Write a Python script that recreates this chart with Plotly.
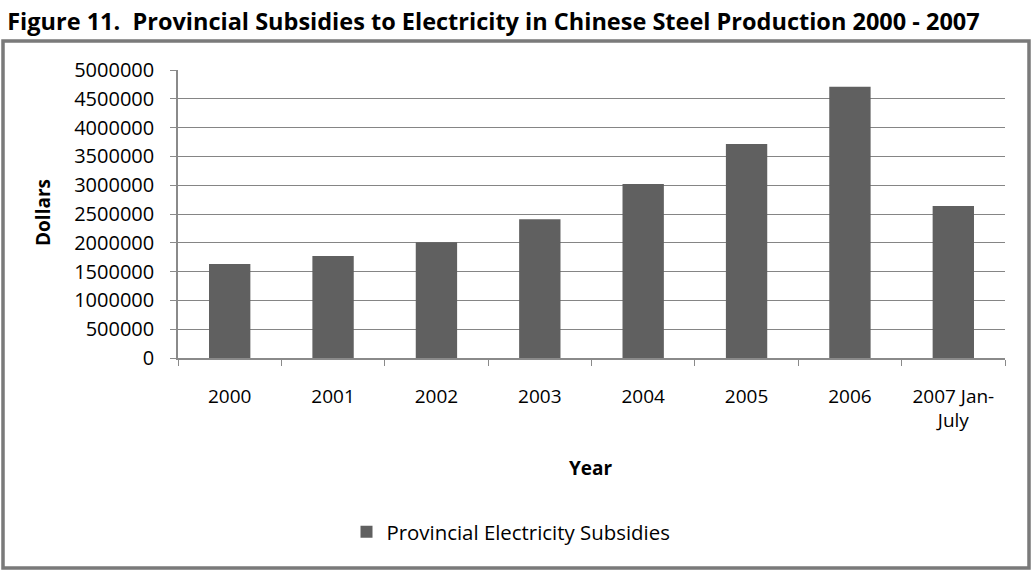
import plotly.graph_objects as go

categories = ["2000", "2001", "2002", "2003", "2004", "2005", "2006", "2007 Jan-July"]
tick_labels = ["2000", "2001", "2002", "2003", "2004", "2005", "2006", "2007 Jan-<br>July"]
subsidies = [1630000, 1770000, 2010000, 2410000, 3020000, 3715000, 4710000, 2640000]
series_name = "Provincial Electricity Subsidies"
title_text = "Figure 11.  Provincial Subsidies to Electricity in Chinese Steel Production 2000 - 2007"

FONT = "Open Sans"
W, H = 1033, 572
L, R, T, B = 178, 28, 70, 214
pw, ph = W - L - R, H - T - B

def px_x(x):
    return (x - L) / pw

def px_y(y):
    return (H - B - y) / ph

fig = go.Figure()
fig.add_trace(go.Bar(
    x=categories, y=subsidies, name=series_name,
    marker=dict(color="#606060", line=dict(width=0)),
    width=0.4, showlegend=True,
))

fig.update_layout(
    width=W, height=H,
    margin=dict(l=L, r=R, t=T, b=B),
    paper_bgcolor="white", plot_bgcolor="white",
    font=dict(family=FONT, color="#000000", size=19),
    title=dict(text="<b>" + title_text + "</b>", x=0.007, xanchor="left",
               xref="container", y=1 - 22 / H, yref="container", yanchor="middle",
               font=dict(family=FONT, size=23.5, color="#000000")),
    showlegend=True,
    legend=dict(orientation="h", x=px_x(511), xanchor="center", y=px_y(532), yanchor="middle",
                font=dict(family=FONT, size=20.4), itemwidth=30, bgcolor="rgba(0,0,0,0)"),
    bargap=0.6,
)

fig.update_xaxes(
    type="category", tickmode="array", tickvals=categories, ticktext=tick_labels,
    showline=True, linecolor="#8a8a8a", linewidth=1.5,
    ticks="outside", tickson="boundaries", ticklen=6, tickcolor="#8a8a8a",
    tickfont=dict(family=FONT, size=19), showgrid=False, ticklabelstandoff=20,
)
fig.update_yaxes(
    range=[0, 5000000], tick0=0, dtick=500000, tickformat="d",
    showline=True, linecolor="#8a8a8a", linewidth=1.5,
    ticks="outside", ticklen=6, tickcolor="#8a8a8a",
    showgrid=True, gridcolor="#858585", gridwidth=1.4,
    tickfont=dict(family=FONT, size=20), zeroline=False, ticklabelstandoff=12,
)

fig.add_annotation(text="<b>Year</b>", x=px_x(591), y=px_y(468), xref="paper", yref="paper",
                   showarrow=False, font=dict(family=FONT, size=19), xanchor="center", yanchor="middle")
fig.add_annotation(text="<b>Dollars</b>", x=px_x(43), y=px_y(213), xref="paper", yref="paper",
                   showarrow=False, textangle=-90, font=dict(family=FONT, size=19),
                   xanchor="center", yanchor="middle")

fig.add_shape(type="rect", xref="paper", yref="paper",
              x0=px_x(3), x1=px_x(1029), y0=px_y(568), y1=px_y(41),
              line=dict(color="#7a7a7a", width=3.5), fillcolor="rgba(0,0,0,0)", layer="below")

fig.write_html("out.html", config={"displayModeBar": False},
               post_script="document.body.style.margin='0';document.body.style.padding='0';")
